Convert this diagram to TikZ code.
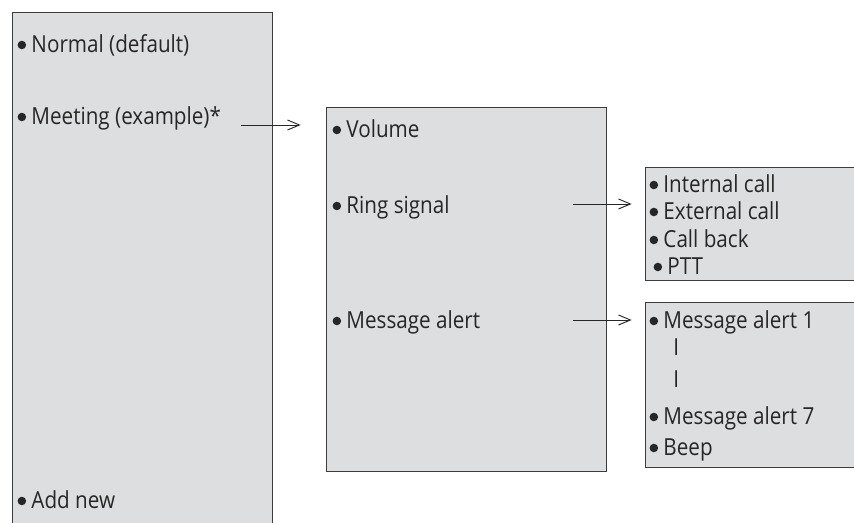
\documentclass[tikz,border=0pt]{standalone}
\usepackage{fontspec}
\setmainfont[FakeStretch=0.88]{Open Sans}
\usetikzlibrary{arrows.meta,positioning}
\definecolor{boxgray}{RGB}{221,222,224}
\definecolor{edgegray}{RGB}{60,60,60}
\newcommand{\bul}{\hspace{2.5pt}\tikz[baseline=-6pt]\fill[black!85] (0,0) circle (3.2pt);\hspace{4pt}}
\tikzset{
  menubox/.style={draw=edgegray,fill=boxgray,line width=0.8pt,anchor=north west,inner sep=0pt},
  item/.style={anchor=base west,inner sep=0pt,text=black!85,text height=12pt,text depth=3pt,
    font=\fontsize{17.6}{20}\selectfont},
  pointer/.style={-{Straight Barb[length=9pt,width=7.5pt]},line width=0.7pt,draw=black!85}
}
\begin{document}
\begin{tikzpicture}[x=0.75pt,y=-0.75pt]
        \clip (0,0) rectangle (854,523);

        % Menu boxes
        \node[menubox,minimum width=195pt,minimum height=400pt] (profiles) at (12,12) {};
        \node[menubox,minimum width=210pt,minimum height=273pt] (settings) at (326,107) {};
        \node[menubox,minimum width=191pt,minimum height=85pt] (ringbox) at (645,167) {};
        \node[menubox,minimum width=191pt,minimum height=124pt] (alertbox) at (645,302) {};

        % Left side items
        \node[item] (normal) at (14,53) {\bul Normal (default)};
        \node[item] (meeting) at (14,125) {\bul Meeting (example)*};
        \node[item] (addnew) at (14,509) {\bul Add new};

        % Middle items
        \node[item] (volume) at (329,138) {\bul Volume};
        \node[item] (ring) at (329,214) {\bul Ring signal};
        \node[item] (msg) at (329,329) {\bul Message alert};

        % Right side items
        \node[item] (internal) at (646,193) {\bul Internal call};
        \node[item] (external) at (646,220) {\bul External call};
        \node[item] (callback) at (646,248) {\bul Call back};
        \node[item] (ptt) at (650,275) {\bul PTT};
        \node[item] (alert1) at (646,329) {\bul Message alert 1};
        \node[item] (dots1) at (673,356) {I};
        \node[item] (dots2) at (673,388) {I};
        \node[item] (alert7) at (646,425) {\bul Message alert 7};
        \node[item] (beep) at (646,456) {\bul Beep};

        % Arrow tails
        \coordinate (meetTail) at (241,125);
        \coordinate (ringTail) at (573,204);
        \coordinate (msgTail) at (573,320);

        % Arrows between menus
        \draw[pointer,shorten >=19pt] (meetTail) -- (meetTail -| settings.west);
        \draw[pointer,shorten >=10pt] (ringTail) -- (ringTail -| ringbox.west);
        \draw[pointer,shorten >=10pt] (msgTail) -- (msgTail -| alertbox.west);
\end{tikzpicture}
\end{document}
